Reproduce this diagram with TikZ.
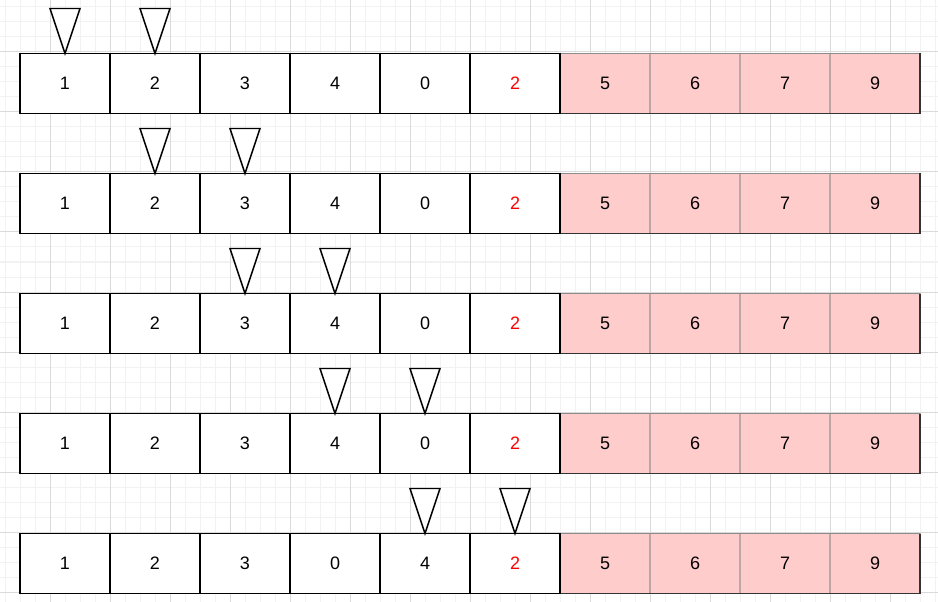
\documentclass[tikz,border=0pt]{standalone}
\usepackage{fontspec}
\setmainfont{Liberation Sans}
\usetikzlibrary{calc}
\definecolor{pinkfill}{HTML}{FFCCCC}
\definecolor{pinkline}{HTML}{BFA6A6}
\definecolor{minorgrid}{HTML}{F2F2F2}
\definecolor{majorgrid}{HTML}{DADADA}
\begin{document}
\begin{tikzpicture}[x=0.75pt,y=-0.75pt,
  cell/.style={draw=black, fill=white, line width=1.1pt, minimum width=67.5pt, minimum height=45pt,
    inner sep=0pt, outer sep=0pt, anchor=north west, font=\fontsize{13.5}{16}\selectfont},
  pcell/.style={cell, fill=pinkfill, draw=pinkline, line width=0.8pt},
  tri/.style={draw=black, fill=white, line width=1.1pt, line join=miter},
  minorline/.style={draw=minorgrid, line width=0.75pt},
  majorline/.style={draw=majorgrid, line width=0.75pt}]
\useasboundingbox (0,0) rectangle (938,602);
\fill[white] (0,0) rectangle (938,602);
% grid
\foreach \x in {5,20,...,935} \draw[minorline] (\x,0) -- (\x,602);
\foreach \y in {7,22,...,600} \draw[minorline] (0,\y) -- (938,\y);
\foreach \x in {50,110,...,890} \draw[majorline] (\x,0) -- (\x,602);
\foreach \y in {52,112,...,592} \draw[majorline] (0,\y) -- (938,\y);
% rows
\foreach \r/\vals/\ta in {0/{1,2,3,4,0}/0, 1/{1,2,3,4,0}/1, 2/{1,2,3,4,0}/2, 3/{1,2,3,4,0}/3, 4/{1,2,3,0,4}/4}{
  \pgfmathsetmacro\ytop{53.5+120*\r}
  \foreach \v [count=\i from 7] in {5,6,7,9}
    \node[pcell] (c\r-\i) at ({20+90*(\i-1)},\ytop) {\v};
  \draw[draw=black!45, line width=0.8pt] (c\r-7.north west) -- (c\r-10.north east);
  \draw[draw=black!80, line width=0.9pt] (c\r-7.south west) -- (c\r-10.south east) -- (c\r-10.north east);
  \foreach \v [count=\i] in \vals
    \node[cell] (c\r-\i) at ({20+90*(\i-1)},\ytop) {\v};
  \node[cell, text=red] (c\r-6) at (470,\ytop) {2};
  \pgfmathtruncatemacro\ka{\ta+1}
  \pgfmathtruncatemacro\kb{\ta+2}
  \draw[tri] ($(c\r-\ka.north)+(-15,-45)$) -- (c\r-\ka.north) -- ($(c\r-\ka.north)+(15,-45)$) -- cycle;
  \draw[tri] ($(c\r-\kb.north)+(-15,-45)$) -- (c\r-\kb.north) -- ($(c\r-\kb.north)+(15,-45)$) -- cycle;
}
\end{tikzpicture}
\end{document}
